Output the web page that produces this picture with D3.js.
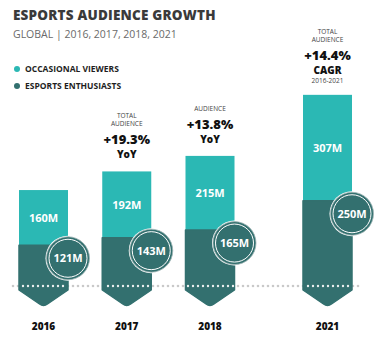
<!DOCTYPE html>
<html>
<head>
<meta charset="utf-8">
<script src="https://cdn.jsdelivr.net/npm/d3@7"></script>
<style>
  html, body { margin: 0; padding: 0; background: #fff; }
  svg { display: block; font-family: "Open Sans", "DejaVu Sans", sans-serif; }
</style>
</head>
<body>
<div id="chart"></div>
<script>
// Esports audience growth: stacked pillars, occasional viewers on top of enthusiasts.

const YEARS        = [2016, 2017, 2018, 2021];
const ENTHUSIASTS  = [121, 143, 165, 250];
const OCCASIONAL   = [160, 192, 215, 307];

const NOTES = [
  null,
  { top: ["TOTAL", "AUDIENCE"], pct: "+19.3%", tag: "YoY", sub: null },
  { top: ["AUDIENCE"],          pct: "+13.8%", tag: "YoY", sub: null },
  { top: ["TOTAL", "AUDIENCE"], pct: "+14.4%", tag: "CAGR", sub: "2016-2021" },
];

const SERIES = [
  { label: "OCCASIONAL VIEWERS",  color: "#2bb8b4" },
  { label: "ESPORTS ENTHUSIASTS", color: "#33706f" },
];

const W = 381, H = 350;
const BAR_W = 49;

const svg = d3.select("#chart").append("svg").attr("width", W).attr("height", H);

// ── Scales ───────────────────────────────────────────────────────────────────

const x = d3.scaleLinear().domain([2016, 2018, 2021]).range([43.5, 210, 327.5]);
const y = d3.scaleLinear().domain([0, 600]).range([287, 80]);

// ── Header ───────────────────────────────────────────────────────────────────

svg.append("text").attr("x", 13).attr("y", 20)
  .style("font-size", "13.5px").style("font-weight", 800).style("fill", "#3a3a3a")
  .style("letter-spacing", "0.2px")
  .text("ESPORTS AUDIENCE GROWTH");

svg.append("text").attr("x", 13).attr("y", 38)
  .style("font-size", "10.5px").style("fill", "#6a6a6a")
  .text("GLOBAL | 2016, 2017, 2018, 2021");

SERIES.forEach((s, i) => {
  const ly = 69 + i * 17;
  svg.append("circle").attr("cx", 17).attr("cy", ly).attr("r", 3).attr("fill", s.color);
  svg.append("text").attr("x", 25).attr("y", ly + 3)
    .style("font-size", "8.5px").style("font-weight", 700).style("fill", "#1e1e1e")
    .text(s.label);
});

// ── Baseline dots (behind) ───────────────────────────────────────────────────

const DOT_X0 = 13, DOT_X1 = 363, DOT_STEP = 5;
svg.append("line")
  .attr("x1", DOT_X0).attr("x2", DOT_X1).attr("y1", y(0) - 1).attr("y2", y(0) - 1)
  .attr("stroke", "#c9c9c9").attr("stroke-width", 2.6)
  .attr("stroke-linecap", "round").attr("stroke-dasharray", `0,${DOT_STEP}`);

// ── Pillars ──────────────────────────────────────────────────────────────────

function pillar(cx, top, bottom) {
  const l = cx - BAR_W / 2, r = cx + BAR_W / 2;
  const tip = bottom + 16, tw = 4;
  const p = d3.path();
  p.moveTo(l, top);
  p.lineTo(r, top);
  p.lineTo(r, bottom);
  p.lineTo(cx + tw, tip - 2);
  p.quadraticCurveTo(cx, tip + 1, cx - tw, tip - 2);
  p.lineTo(l, bottom);
  p.closePath();
  return p.toString();
}

YEARS.forEach((yr, i) => {
  const cx = x(yr);
  const total = ENTHUSIASTS[i] + OCCASIONAL[i];
  const yTop = y(total), yMid = y(ENTHUSIASTS[i]);

  // occasional viewers (top block)
  svg.append("rect")
    .attr("x", cx - BAR_W / 2).attr("y", yTop)
    .attr("width", BAR_W).attr("height", yMid - yTop)
    .attr("fill", SERIES[0].color);

  // enthusiasts (bottom block with arrow tip)
  svg.append("path").attr("d", pillar(cx, yMid, y(0) + 3))
    .attr("fill", SERIES[1].color).attr("stroke", SERIES[1].color)
    .attr("stroke-width", 1.5).attr("stroke-linejoin", "round");

  // white dots across the pillar
  const x1 = cx - BAR_W / 2 + 2, x2 = cx + BAR_W / 2 - 1;
  svg.append("line")
    .attr("x1", x1).attr("x2", x2).attr("y1", y(0) - 1).attr("y2", y(0) - 1)
    .attr("stroke", "#e9eeee").attr("stroke-width", 2.4)
    .attr("stroke-linecap", "round").attr("stroke-dasharray", `0,${DOT_STEP}`)
    .attr("stroke-dashoffset", -((DOT_STEP - ((x1 - DOT_X0) % DOT_STEP)) % DOT_STEP));

  // occasional label
  svg.append("text")
    .attr("x", cx).attr("y", (yTop + yMid) / 2 + 4)
    .attr("text-anchor", "middle")
    .style("font-size", "11px").style("font-weight", 700).style("fill", "#fff")
    .text(OCCASIONAL[i] + "M");

  // enthusiast badge
  const bx = cx + BAR_W / 2, by = yMid + 13;
  svg.append("circle").attr("cx", bx).attr("cy", by).attr("r", 22.5)
    .attr("fill", "#fff");
  svg.append("circle").attr("cx", bx).attr("cy", by).attr("r", 21.5)
    .attr("fill", SERIES[1].color).attr("stroke", "#9fb5b5").attr("stroke-width", 0.8);
  svg.append("circle").attr("cx", bx).attr("cy", by).attr("r", 19)
    .attr("fill", "none").attr("stroke", "#fff").attr("stroke-width", 1);
  svg.append("text")
    .attr("x", bx).attr("y", by + 4)
    .attr("text-anchor", "middle")
    .style("font-size", "11px").style("font-weight", 700).style("fill", "#fff")
    .text(ENTHUSIASTS[i] + "M");

  // year label
  svg.append("text")
    .attr("x", cx).attr("y", 330)
    .attr("text-anchor", "middle")
    .style("font-size", "10px").style("font-weight", 800).style("fill", "#111")
    .text(yr);

  // growth note
  const n = NOTES[i];
  if (!n) return;
  let ny = yTop - 13;
  if (n.sub) {
    svg.append("text").attr("x", cx).attr("y", ny + 1)
      .attr("text-anchor", "middle")
      .style("font-size", "6.5px").style("fill", "#444").text(n.sub);
    ny -= 8;
  }
  svg.append("text").attr("x", cx).attr("y", ny)
    .attr("text-anchor", "middle")
    .style("font-size", "10px").style("font-weight", 800).style("fill", "#111").text(n.tag);
  ny -= 14;
  svg.append("text").attr("x", cx).attr("y", ny)
    .attr("text-anchor", "middle")
    .style("font-size", "13px").style("font-weight", 800).style("fill", "#111").text(n.pct);
  ny -= 18;
  n.top.slice().reverse().forEach(t => {
    svg.append("text").attr("x", cx).attr("y", ny)
      .attr("text-anchor", "middle")
      .style("font-size", "6.5px").style("fill", "#444").text(t);
    ny -= 8;
  });
});
</script>
</body>
</html>
